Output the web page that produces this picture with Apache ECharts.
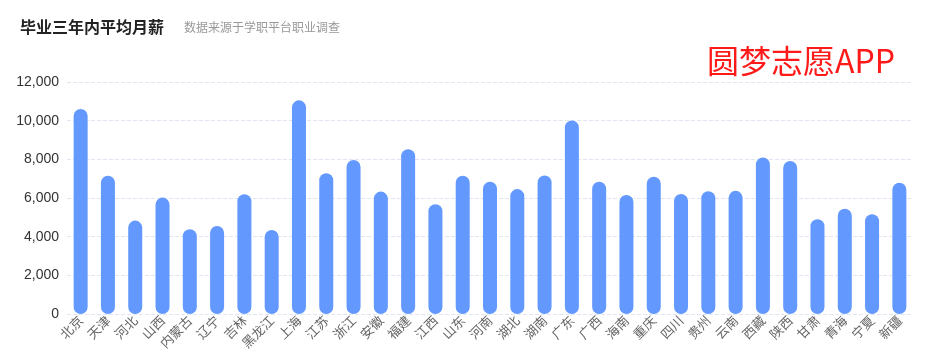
<!DOCTYPE html>
<html>
<head>
<meta charset="utf-8">
<script src="https://cdn.jsdelivr.net/npm/echarts@6/dist/echarts.min.js"></script>
<style>html,body{margin:0;padding:0;background:#fff;}#c{width:947px;height:363px;}</style>
</head>
<body>
<div id="c"></div>
<script>
const categories = ['北京','天津','河北','山西','内蒙古','辽宁','吉林','黑龙江','上海','江苏','浙江','安徽','福建','江西','山东','河南','湖北','湖南','广东','广西','海南','重庆','四川','贵州','云南','西藏','陕西','甘肃','青海','宁夏','新疆'];
const salary = [10600,7150,4830,6020,4380,4550,6200,4350,11050,7280,7970,6330,8520,5680,7150,6840,6460,7160,10010,6840,6160,7100,6210,6350,6370,8100,7920,4900,5450,5160,6790];
const yTicks = [0,2000,4000,6000,8000,10000,12000];

const chart = echarts.init(document.getElementById('c'));
chart.setOption({
  animation: false,
  title: [
    {text: '毕业三年内平均月薪', left: 15, top: 14, textStyle: {fontSize: 16, fontWeight: 'bold', color: '#222', fontFamily: 'Noto Sans CJK SC'}},
    {text: '数据来源于学职平台职业调查', left: 179, top: 16, textStyle: {fontSize: 12, fontWeight: 'normal', color: '#999', fontFamily: 'Noto Sans CJK SC'}}
  ],
  graphic: [{
    type: 'text', left: 707, top: 45,
    style: {text: '圆梦志愿APP', fill: '#ff1a1a', fontSize: 32, fontFamily: 'Noto Sans CJK SC'}
  }],
  grid: {left: 67, right: 34, top: 82, bottom: 49},
  xAxis: {
    type: 'category', data: categories,
    axisLine: {show: false}, axisTick: {show: false},
    axisLabel: {rotate: 45, color: '#666', fontSize: 13, interval: 0, margin: 4, fontFamily: 'Noto Sans CJK SC'}
  },
  yAxis: {
    type: 'value', min: yTicks[0], max: yTicks[yTicks.length-1], interval: 2000,
    axisLine: {show: false}, axisTick: {show: false},
    axisLabel: {color: '#333', fontSize: 14, margin: 8, formatter: v => v.toLocaleString('en-US')},
    splitLine: {lineStyle: {type: 'dashed', color: '#e0e6f1'}}
  },
  series: [{
    type: 'bar', data: salary, barWidth: 14,
    itemStyle: {color: '#6399ff', borderRadius: 7}
  }]
});
</script>
</body>
</html>
